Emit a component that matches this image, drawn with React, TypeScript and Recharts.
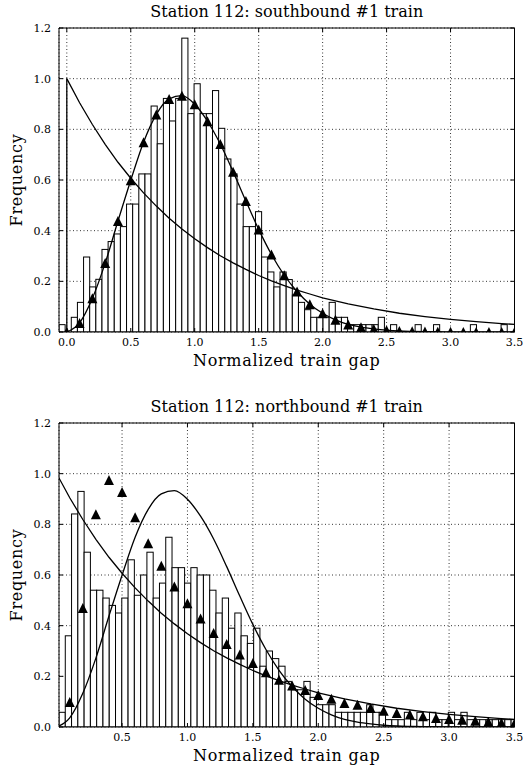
import { ComposedChart, Bar, Line, XAxis, YAxis, CartesianGrid } from 'recharts'

const FONT = '"DejaVu Serif", "Liberation Serif", serif'

// histogram bin width (normalized gap units)
const BIN_W = 0.048

// southbound histogram: bin centres and normed heights
const southBinX = [
  -0.037, 0.011, 0.059, 0.107, 0.155, 0.203, 0.251, 0.299, 0.347, 0.395,
  0.443, 0.491, 0.539, 0.587, 0.635, 0.683, 0.731, 0.779, 0.827, 0.875,
  0.923, 0.971, 1.019, 1.067, 1.115, 1.163, 1.211, 1.259, 1.307, 1.355,
  1.403, 1.451, 1.499, 1.547, 1.595, 1.643, 1.691, 1.739, 1.787, 1.835,
  1.883, 1.931, 1.979, 2.027, 2.075, 2.123, 2.171, 2.219, 2.267, 2.315,
  2.363, 2.411, 2.459, 2.507, 2.555, 2.603, 2.651, 2.699, 2.747, 2.795,
  2.843, 2.891, 2.939, 2.987, 3.035, 3.083, 3.131, 3.179, 3.227, 3.275,
  3.323, 3.371, 3.419, 3.467,
]
const southBinH = [
  0.029, 0, 0.058, 0.117, 0.296, 0.178, 0.208, 0.326, 0.357, 0.387,
  0.416, 0.505, 0.505, 0.624, 0.624, 0.892, 0.743, 0.922, 0.833, 0.922,
  1.16, 0.862, 0.98, 0.862, 0.862, 0.953, 0.804, 0.683, 0.624, 0.505,
  0.416, 0.416, 0.475, 0.296, 0.237, 0.178, 0.237, 0.207, 0.146, 0.117,
  0.088, 0.058, 0.058, 0.058, 0.117, 0.058, 0.058, 0.029, 0.029, 0.029,
  0.029, 0.029, 0.058, 0, 0.029, 0, 0, 0, 0.029, 0,
  0, 0.029, 0, 0, 0, 0, 0, 0.029, 0, 0,
  0, 0, 0.029, 0,
]

// northbound histogram
const northBinX = [
  0.042, 0.090, 0.138, 0.186, 0.234, 0.282, 0.330, 0.378, 0.426, 0.474,
  0.522, 0.570, 0.618, 0.666, 0.714, 0.762, 0.810, 0.858, 0.906, 0.954,
  1.002, 1.050, 1.098, 1.146, 1.194, 1.242, 1.290, 1.338, 1.386, 1.434,
  1.482, 1.530, 1.578, 1.626, 1.674, 1.722, 1.770, 1.818, 1.866, 1.914,
  1.962, 2.010, 2.058, 2.106, 2.154, 2.202, 2.250, 2.298, 2.346, 2.394,
  2.442, 2.490, 2.538, 2.586, 2.634, 2.682, 2.730, 2.778, 2.826, 2.874,
  2.922, 2.970, 3.018, 3.066, 3.114, 3.162, 3.210, 3.258, 3.306, 3.354,
  3.402, 3.450, 3.498,
]
const northBinH = [
  0.058, 0.36, 0.841, 0.93, 0.69, 0.54, 0.54, 0.509, 0.48, 0.45,
  0.509, 0.66, 0.52, 0.6, 0.69, 0.509, 0.568, 0.749, 0.629, 0.629,
  0.568, 0.629, 0.6, 0.6, 0.54, 0.45, 0.509, 0.39, 0.45, 0.36,
  0.33, 0.39, 0.24, 0.30, 0.27, 0.24, 0.18, 0.147, 0.147, 0.18,
  0.117, 0.088, 0.088, 0.088, 0.058, 0.058, 0.058, 0.058, 0.058, 0.088,
  0.058, 0.058, 0.029, 0.029, 0.029, 0.058, 0.029, 0.058, 0.029, 0.058,
  0.029, 0.029, 0.058, 0.029, 0.058, 0.029, 0.029, 0.029, 0.029, 0.029,
  0.029, 0.029, 0.029,
]

// exponential reference curve
const expX = [0, 0.1, 0.2, 0.3, 0.4, 0.5, 0.6, 0.7, 0.8, 0.9, 1.0, 1.1, 1.2, 1.3, 1.4, 1.5, 1.6, 1.7, 1.8, 1.9, 2.0, 2.2, 2.4, 2.6, 2.8, 3.0, 3.2, 3.4, 3.5]
const expY = [1.0, 0.905, 0.819, 0.741, 0.670, 0.607, 0.549, 0.497, 0.449, 0.407, 0.368, 0.333, 0.301, 0.273, 0.247, 0.223, 0.202, 0.183, 0.165, 0.150, 0.135, 0.111, 0.091, 0.074, 0.061, 0.050, 0.041, 0.033, 0.030]
// the vertical rise at the origin in the southbound plot
const riseX = [0, 0]
const riseY = [0, 1.0]

// fitted bell curve (southbound fit, also drawn on northbound)
const fitX = [0, 0.1, 0.2, 0.3, 0.4, 0.5, 0.6, 0.7, 0.8, 0.9, 1.0, 1.1, 1.2, 1.3, 1.4, 1.5, 1.6, 1.7, 1.8, 1.9, 2.0, 2.1, 2.2, 2.3, 2.4, 2.5, 2.6, 2.7, 2.8, 2.9, 3.0, 3.1, 3.2, 3.3, 3.4, 3.5]
const fitY = [0, 0.036, 0.133, 0.272, 0.438, 0.599, 0.749, 0.859, 0.920, 0.933, 0.899, 0.832, 0.742, 0.633, 0.517, 0.405, 0.306, 0.224, 0.160, 0.110, 0.074, 0.048, 0.030, 0.019, 0.012, 0.007, 0.004, 0.0025, 0.0015, 0.0009, 0.0005, 0.0003, 0.0002, 0.0001, 0.0001, 0]

// northbound triangles
const northTriX = [0.1, 0.2, 0.3, 0.4, 0.5, 0.6, 0.7, 0.8, 0.9, 1.0, 1.1, 1.2, 1.3, 1.4, 1.5, 1.6, 1.7, 1.8, 1.9, 2.0, 2.1, 2.2, 2.3, 2.4, 2.5, 2.6, 2.7, 2.8, 2.9, 3.0, 3.1, 3.2, 3.3, 3.4, 3.5]
const northTriY = [0.099, 0.47, 0.84, 0.975, 0.928, 0.828, 0.725, 0.637, 0.555, 0.488, 0.428, 0.371, 0.328, 0.286, 0.253, 0.216, 0.187, 0.164, 0.146, 0.126, 0.112, 0.095, 0.088, 0.075, 0.064, 0.055, 0.049, 0.042, 0.036, 0.032, 0.029, 0.025, 0.021, 0.017, 0.015]

const xTicksSouth = [0, 0.5, 1.0, 1.5, 2.0, 2.5, 3.0, 3.5]
const xTicksNorth = [0.5, 1.0, 1.5, 2.0, 2.5, 3.0, 3.5]
const yTicks = [0, 0.2, 0.4, 0.6, 0.8, 1.0, 1.2]

const zip = (xs: number[], ys: number[]) => xs.map((x, i) => ({ x, y: ys[i] }))

const W = 527
const H = 386
// plot box: x 59..514.5, y 28..332
const AX_B = 20, AX_L = 20, AX_T = 4, AX_R = 4
const M = { top: 28 - AX_T, right: 12.5 - AX_R, bottom: H - 332 - AX_B, left: 59 - AX_L }
const PLOT_W = 514.5 - 59

function Tri(props: any) {
  const { cx, cy } = props
  if (cx == null || cy == null || isNaN(cx) || isNaN(cy)) return <g />
  return <path d={`M${cx},${cy - 5}L${cx + 5},${cy + 5}L${cx - 5},${cy + 5}Z`} fill="#000" />
}

function HistBar(props: any) {
  const { x, y, width, height, binPx } = props
  if (!(height > 0)) return <g />
  const cx = x + width / 2
  return <rect x={cx - binPx / 2} y={y} width={binPx} height={height} fill="#fff" stroke="#000" strokeWidth={1} />
}

interface PanelProps {
  top: number
  title: string
  binX: number[]
  binH: number[]
  domain: [number, number]
  xTicks: number[]
  south: boolean
}

const label = { fontFamily: FONT, fontSize: 16, lineHeight: '18px', letterSpacing: 0.7, color: '#000' }

function Panel({ top, title, binX, binH, domain, xTicks, south }: PanelProps) {
  const bins = binX.map((x, i) => ({ x, h: binH[i] }))
  const binPx = (PLOT_W / (domain[1] - domain[0])) * BIN_W
  const tickStyle = { fontSize: 11, fontFamily: FONT, fill: '#000' }
  return (
    <div style={{ position: 'absolute', left: 0, top, width: W, height: H }}>
      <div style={{ ...label, letterSpacing: 0, position: 'absolute', left: 59, top: 3, width: PLOT_W, textAlign: 'center' }}>
        {title}
      </div>
      <div style={{ ...label, position: 'absolute', left: 59, top: 352, width: PLOT_W, textAlign: 'center' }}>
        Normalized train gap
      </div>
      <div style={{ ...label, position: 'absolute', left: 17 - 100, top: 180 - 9, width: 200, textAlign: 'center', transform: 'rotate(-90deg)' }}>
        Frequency
      </div>
      <ComposedChart width={W} height={H} data={bins} margin={M}>
        <XAxis
          dataKey="x" type="number" domain={domain} allowDataOverflow ticks={xTicks}
          height={AX_B} tickSize={-4} tickMargin={10} tickFormatter={(v: number) => v.toFixed(1)}
          tick={tickStyle} stroke="#000"
        />
        <XAxis
          xAxisId="t" orientation="top" dataKey="x" type="number" domain={domain} allowDataOverflow ticks={xTicks}
          height={AX_T} tickSize={-4} tickFormatter={() => ''} stroke="#000"
        />
        <YAxis
          type="number" domain={[0, 1.2]} allowDataOverflow ticks={yTicks}
          width={AX_L} tickSize={-4} tickMargin={12} tickFormatter={(v: number) => v.toFixed(1)}
          tick={tickStyle} stroke="#000"
        />
        <YAxis
          yAxisId="r" orientation="right" type="number" domain={[0, 1.2]} allowDataOverflow ticks={yTicks}
          width={AX_R} tickSize={-4} tickFormatter={() => ''} stroke="#000"
        />
        <Bar dataKey="h" isAnimationActive={false} shape={(p: any) => <HistBar {...p} binPx={binPx} />} />
        <CartesianGrid stroke="#000" strokeDasharray="1 2.5" strokeWidth={0.8} />
        <Line data={zip(expX, expY)} dataKey="y" type="linear" stroke="#000" strokeWidth={1.3} dot={false} isAnimationActive={false} />
        {south && (
          <Line data={zip(riseX, riseY)} dataKey="y" type="linear" stroke="#000" strokeWidth={1.3} dot={false} isAnimationActive={false} />
        )}
        <Line
          data={zip(fitX, fitY)} dataKey="y" type="monotone" stroke="#000" strokeWidth={1.3}
          dot={south ? (p: any) => <Tri key={p.index} {...p} /> : false} isAnimationActive={false}
        />
        {!south && (
          <Line
            data={zip(northTriX, northTriY)} dataKey="y" stroke="none" dot={(p: any) => <Tri key={p.index} {...p} />}
            isAnimationActive={false}
          />
        )}
      </ComposedChart>
    </div>
  )
}

export default function App() {
  return (
    <div style={{ position: 'absolute', left: 0, top: 0, width: W, height: 772, background: '#fff' }}>
      <Panel top={0} title="Station 112: southbound #1 train" binX={southBinX} binH={southBinH}
        domain={[-0.061, 3.5]} xTicks={xTicksSouth} south />
      <Panel top={395} title="Station 112: northbound #1 train" binX={northBinX} binH={northBinH}
        domain={[0.018, 3.5]} xTicks={xTicksNorth} south={false} />
    </div>
  )
}
